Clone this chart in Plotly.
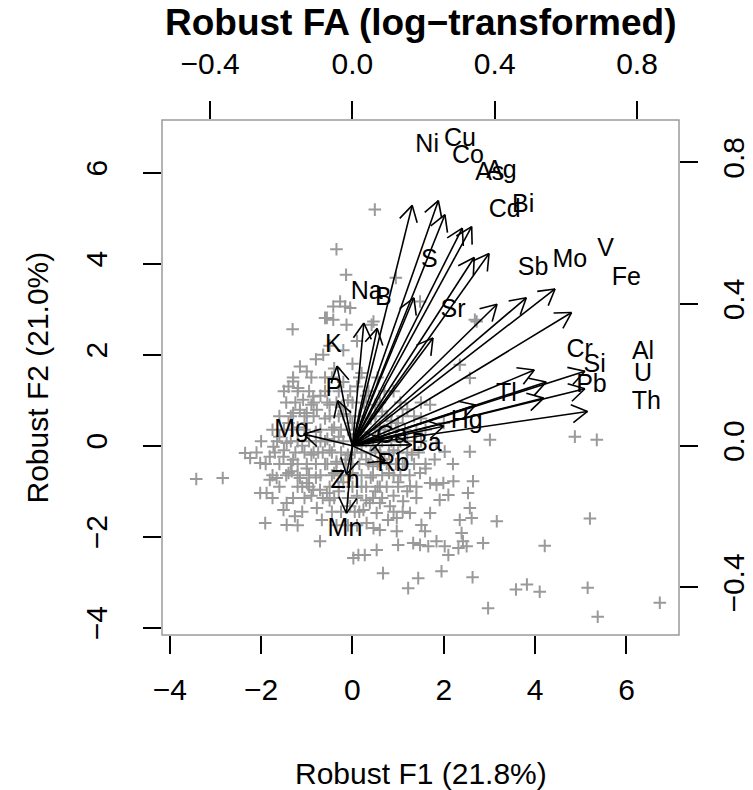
import math
import plotly.graph_objects as go

# Robust factor scores of the samples (F1, F2)
score_f1 = [
    -0.60, -1.31, -0.64, -1.15, -1.00, -1.30, -1.40, -1.19, -1.08, -0.86, -1.15, -1.30, -1.00, -0.78,
    -1.73, -2.35, -2.24, -2.02, -1.81, -1.44, -1.51, -1.30,
    -3.42, -2.84, -2.02, -1.88, -1.81, -1.66, -1.51, -1.44, -1.30, -1.26, -1.91, -1.44, -1.15, -1.00,
    -0.86, -0.71, -0.56, -0.78, -0.67, -0.71, -1.33,
    1.70, 1.84, 1.99, 2.21, 2.64, 2.53, 2.10, 1.91, 1.11, 1.26, 1.48, 1.70, 1.26, 0.97, 0.78, 0.53,
    0.38, 2.57, 2.35, 2.61, 3.16, 1.51, 1.59, 0.97, 0.60, 0.46, 2.39, 2.42, 2.86, 1.33, 1.48, 1.66,
    1.84, 2.02, 2.10, 2.50, 2.32, 1.00, 0.53, 0.27, 0.13, 0.02, 0.67, 1.44, 1.22, 1.95, 2.63, 2.97,
    -0.05, 0.24, 0.60, 0.82, 0.31,
    -0.42, -0.13, 0.42, -0.16, -0.42, 2.72, 2.35, 2.57, 3.01, 2.57, 1.84, 2.02,
    0.49, -0.35, -0.14, 0.95, -0.27, -0.05, -0.56, 0.46, 1.48, 2.68,
    4.87, 5.35, 5.20, 4.21, 3.82, 4.10, 3.58, 5.15, 5.37, 6.73,
    -1.2, -1.0, -0.8, -0.6, -0.4, -0.2, 0.0, 0.2, 0.4, 0.6, 0.8, 1.0, 1.2,
    -1.1, -0.9, -0.7, -0.5, -0.3, -0.1, 0.1, 0.3, 0.5, 0.7, 0.9, 1.1, 1.3,
    -1.0, -0.8, -0.6, -0.4, -0.2, 0.0, 0.2, 0.4, 0.6, 0.8, 1.0, 1.2,
    -0.9, -0.7, -0.5, -0.3, -0.1, 0.1, 0.3, 0.5, 0.7, -0.6, -0.4, -0.2, 0.0, 0.2, -0.8, -0.5, -0.2, 0.1,
    -1.4, -1.6, -1.5, -1.2, -1.4, -1.1, -0.9, -0.5, -0.3, 0.1, 0.3, 0.5, 0.9,
    1.4, 1.6, 1.5, 1.8, 2.2, 1.7, 2.0, 1.2, -0.15, 0.05, -0.35, 0.35, -0.55, 0.65, -0.75, -0.25, 0.45, 0.85,
    -1.3, -0.9, -0.45, 0.15, 0.55,
    -1.5, -1.2, -0.95, -0.6, -0.05, 0.35, 0.9,
    -1.45, -1.25, -0.85, -0.55, -0.35, 0.0, 0.25, 0.6, 1.05, 1.5,
    -1.6, -1.35, -1.05, -0.85, -0.5, -0.3, -0.05, 0.15, 0.5, 0.75, 1.1, 1.35,
    -1.75, -1.5, -1.3, -1.05, -0.7, -0.45, -0.25, -0.1, 0.1, 0.5, 0.7, 0.95, 1.15, 1.6,
    -2.0, -1.65, -1.35, -1.2, -0.95, -0.8, -0.6, -0.4, -0.2, 0.3, 0.45, 0.65, 0.85, 1.05, 1.5,
    -2.1, -1.7, -1.25, -1.05, -0.85, -0.65, -0.45, -0.25, 0.05, 0.2, 0.4, 0.6, 0.8, 1.0, 1.2, 1.45,
    -1.9, -1.6, -1.35, -1.0, -0.8, -0.55, -0.35, -0.15, 0.0, 0.15, 0.35, 0.55, 0.75, 0.95, 1.15, 1.35, 1.6,
    -1.75, -1.45, -1.2, -0.95, -0.7, -0.45, -0.25, -0.05, 0.2, 0.45, 0.65, 0.9, 1.05, 1.25,
    -1.6, -1.2, -0.95, -0.5, -0.3, 0.0, 0.3, 0.55, 0.75, 1.0, 1.4,
    -1.75, -1.05, -0.65, -0.4, -0.1, 0.1, 0.45, 0.65, 1.4,
    -1.1, -0.45, -0.25, 0.05, 0.15, 0.9, 1.1,
    -1.2, -0.35, -0.1, 0.1,
]
score_f2 = [
    2.81, 2.56, 2.00, 1.74, 1.63, 1.41, 1.30, 1.27, 1.01, 1.08, 0.79, 0.72, 0.72, 0.79,
    -0.02, -0.16, -0.27, -0.38, -0.24, 0.06, -0.24, -0.31,
    -0.73, -0.71, -1.04, -1.04, -0.75, -0.71, -1.41, -1.26, -1.15, -1.55, -1.70, -1.74, -0.71, -0.82,
    -0.97, -0.97, -1.04, -1.37, -1.63, -2.10, -0.56,
    -0.82, -0.86, -0.82, -0.78, -0.78, -1.04, -1.08, -1.19, -1.22, -0.89, -0.60, -1.48, -1.48, -1.59, -1.63, -1.48,
    -1.26, -1.37, -1.63, -1.59, -1.66, -1.74, -1.88, -1.88, -1.85, -1.81, -1.92, -2.10, -2.14, -2.14, -2.18, -2.21,
    -2.10, -2.21, -2.40, -2.21, -2.25, -2.18, -2.29, -2.40, -2.40, -2.47, -2.80, -2.91, -3.13, -2.76, -2.89, -3.57,
    -1.33, -1.41, -1.26, -1.33, -1.70,
    2.77, 2.66, 2.66, 3.06, 3.06, 2.73, 1.78, 1.49, 0.13, -0.13, 0.06, -0.13,
    5.19, 4.32, 3.76, 3.69, 3.17, 3.03, 2.81, 2.73, 3.17, 2.77,
    0.20, 0.13, -1.60, -2.20, -3.05, -3.21, -3.16, -3.12, -3.76, -3.45,
    0.4, 0.5, 0.3, 0.6, 0.4, 0.7, 0.5, 0.3, 0.6, 0.4, 0.2, 0.5, 0.1,
    0.0, -0.2, 0.1, -0.1, 0.2, -0.2, 0.0, -0.3, -0.1, -0.3, -0.1, -0.4, -0.2,
    -0.5, -0.7, -0.4, -0.6, -0.8, -0.6, -0.9, -0.7, -0.9, -0.6, -0.8, -1.0,
    0.9, 1.1, 0.9, 1.2, 1.0, 1.3, 1.1, 0.9, 1.2, 1.5, 1.7, 1.4, 1.8, 1.6, 1.9, 2.2, 2.1, 2.3,
    0.5, 0.2, -0.1, -0.4, -0.6, -0.9, -1.1, -1.2, -1.0, -1.1, -1.2, -1.0, -1.1,
    0.3, -0.5, 0.6, -0.3, -0.4, 0.9, 0.5, 0.8, -0.3, 0.25, -0.35, 0.15, 0.15, 0.75, -0.15, 0.85, -0.45, 0.55,
    1.5, 1.5, 1.5, 1.5, 1.5,
    1.2, 1.2, 1.2, 1.2, 1.2, 1.2, 1.2,
    0.95, 0.95, 0.95, 0.95, 0.95, 0.95, 0.95, 0.95, 0.95, 0.95,
    0.65, 0.65, 0.65, 0.65, 0.65, 0.65, 0.65, 0.65, 0.65, 0.65, 0.65, 0.65,
    0.35, 0.35, 0.35, 0.35, 0.35, 0.35, 0.35, 0.35, 0.35, 0.35, 0.35, 0.35, 0.35, 0.35,
    0.1, 0.1, 0.1, 0.1, 0.1, 0.1, 0.1, 0.1, 0.1, 0.1, 0.1, 0.1, 0.1, 0.1, 0.1,
    -0.15, -0.15, -0.15, -0.15, -0.15, -0.15, -0.15, -0.15, -0.15, -0.15, -0.15, -0.15, -0.15, -0.15, -0.15, -0.15,
    -0.4, -0.4, -0.4, -0.4, -0.4, -0.4, -0.4, -0.4, -0.4, -0.4, -0.4, -0.4, -0.4, -0.4, -0.4, -0.4, -0.4,
    -0.65, -0.65, -0.65, -0.65, -0.65, -0.65, -0.65, -0.65, -0.65, -0.65, -0.65, -0.65, -0.65, -0.65,
    -0.9, -0.9, -0.9, -0.9, -0.9, -0.9, -0.9, -0.9, -0.9, -0.9, -0.9,
    -1.15, -1.15, -1.15, -1.15, -1.15, -1.15, -1.15, -1.15, -1.15,
    -1.45, -1.45, -1.45, -1.45, -1.45, -1.45, -1.45,
    -1.75, -1.75, -1.75, -1.75,
]

# Loadings of the variables on F1 and F2
elements = ["Ni", "Cu", "Co", "As", "Ag", "Cd", "Bi", "S", "Sb", "Mo", "V", "Fe",
            "Cr", "Si", "Pb", "Al", "U", "Th", "Tl", "Hg", "Ba", "Rb", "Zn", "Mn",
            "Mg", "P", "K", "Na", "B", "Sr", "Ca"]
load_f1 = [0.210, 0.302, 0.325, 0.386, 0.419, 0.428, 0.480, 0.216, 0.508, 0.611, 0.712, 0.770,
           0.639, 0.681, 0.672, 0.817, 0.817, 0.826, 0.433, 0.321, 0.208, 0.115, -0.021, -0.021,
           -0.171, -0.052, -0.054, 0.040, 0.087, 0.283, 0.111]
load_f2 = [0.848, 0.865, 0.815, 0.768, 0.773, 0.664, 0.678, 0.522, 0.499, 0.522, 0.553, 0.470,
           0.267, 0.225, 0.168, 0.263, 0.201, 0.121, 0.144, 0.069, 0.003, -0.054, -0.101, -0.238,
           0.041, 0.159, 0.281, 0.433, 0.414, 0.380, 0.025]

score_ticks = [-4, -2, 0, 2, 4, 6]
load_ticks = [-0.4, 0.0, 0.4, 0.8]


def minus(v, fmt):
    return fmt.format(v).replace("-", "\u2212")


# Axis limits (scores) and the scale factor of the loading axes
xlim = [-4.17, 7.15]
ylim = [-4.16, 7.16]
ratio = 0.1284

W, H = 753, 790
ML, MR, MT, MB = 162, 74, 120, 155
PW, PH = W - ML - MR, H - MT - MB

GREY = "#9a9a9a"
FONT = "Liberation Sans, Arial, Helvetica, sans-serif"

fig = go.Figure()

fig.add_trace(go.Scatter(
    x=score_f1, y=score_f2, mode="markers", xaxis="x", yaxis="y",
    marker=dict(symbol="cross-thin", size=9, line=dict(color=GREY, width=2)),
    hoverinfo="skip", showlegend=False,
))

# Variable names at the loading positions
fig.add_trace(go.Scatter(
    x=load_f1, y=load_f2, mode="text", text=elements, xaxis="x2", yaxis="y2",
    textfont=dict(family=FONT, size=25, color="black"),
    textposition="middle center", hoverinfo="skip", showlegend=False,
))

# Arrows from the origin to 0.8 x loading, with open heads
sx = PW / ((xlim[1] - xlim[0]) * ratio)
sy = PH / ((ylim[1] - ylim[0]) * ratio)
head_px = 18.0
ang = math.radians(30)
ax, ay = [], []
for lx, ly in zip(load_f1, load_f2):
    tx, ty = 0.8 * lx, 0.8 * ly
    ax += [0, tx, None]
    ay += [0, ty, None]
    dx, dy = tx * sx, ty * sy
    n = math.hypot(dx, dy)
    ux, uy = -dx / n, -dy / n
    for s in (1, -1):
        c, si = math.cos(s * ang), math.sin(s * ang)
        hx = ux * c - uy * si
        hy = ux * si + uy * c
        ax += [tx, tx + hx * head_px / sx, None]
        ay += [ty, ty + hy * head_px / sy, None]

fig.add_trace(go.Scatter(
    x=ax, y=ay, mode="lines", xaxis="x2", yaxis="y2",
    line=dict(color="black", width=1.6), hoverinfo="skip", showlegend=False,
))

tickfont = dict(family=FONT, size=30, color="black")
common = dict(showgrid=False, zeroline=False, showline=False, ticks="outside",
              ticklen=18, tickwidth=1.5, tickcolor="black", tickfont=tickfont)

fig.update_layout(
    width=W, height=H,
    margin=dict(l=ML, r=MR, t=MT, b=MB, autoexpand=False),
    paper_bgcolor="white", plot_bgcolor="white",
    xaxis=dict(range=xlim, tickvals=score_ticks,
               ticktext=[minus(v, "{:d}") for v in score_ticks],
               ticklabelstandoff=10, **common),
    yaxis=dict(range=ylim, tickvals=score_ticks,
               ticktext=[minus(v, "{:d}") for v in score_ticks],
               tickangle=-90, ticklabelstandoff=24, **common),
    xaxis2=dict(range=[xlim[0] * ratio, xlim[1] * ratio], overlaying="x", side="top",
                tickvals=load_ticks, ticktext=[minus(v, "{:.1f}") for v in load_ticks],
                ticklabelstandoff=15, **common),
    yaxis2=dict(range=[ylim[0] * ratio, ylim[1] * ratio], overlaying="y", side="right",
                tickvals=load_ticks, ticktext=[minus(v, "{:.1f}") for v in load_ticks],
                tickangle=-90, ticklabelstandoff=10, **common),
    shapes=[dict(type="rect", xref="paper", yref="paper", x0=0, x1=1, y0=0, y1=1,
                 line=dict(color=GREY, width=1.5))],
    annotations=[
        dict(text="<b>Robust FA (log\u2212transformed)</b>", xref="paper", yref="paper",
             x=0.5, y=(MT + PH - 22) / PH, xanchor="center", yanchor="middle",
             showarrow=False, font=dict(family=FONT, size=37, color="black")),
        dict(text="Robust F1 (21.8%)", xref="paper", yref="paper",
             x=0.5, y=-(773 - MT - PH) / PH, xanchor="center", yanchor="middle",
             showarrow=False, font=dict(family=FONT, size=30, color="black")),
        dict(text="Robust F2 (21.0%)", xref="paper", yref="paper",
             x=(37 - ML) / PW, y=0.5, xanchor="center", yanchor="middle", textangle=-90,
             showarrow=False, font=dict(family=FONT, size=30, color="black")),
    ],
)

fig.write_html("out.html")
